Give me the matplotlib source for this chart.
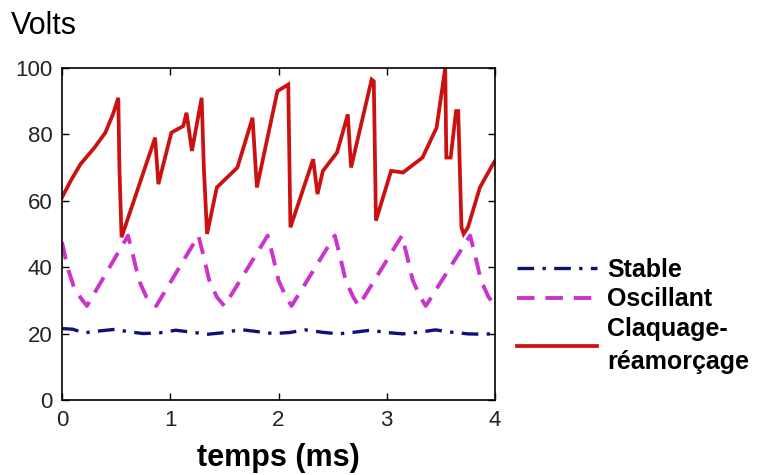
import numpy as np
import matplotlib
matplotlib.use("Agg")
import matplotlib.pyplot as plt

plt.rcParams['font.family'] = ['Liberation Sans', 'DejaVu Sans']

# --- data ---
stable_t = [0.00, 0.10, 0.20, 0.35, 0.50, 0.60, 0.75, 0.90, 1.05, 1.20, 1.35, 1.50, 1.65,
            1.80, 1.95, 2.10, 2.25, 2.40, 2.55, 2.70, 2.85, 3.00, 3.15, 3.30, 3.45, 3.60,
            3.75, 3.90, 4.00]
stable_v = [21.5, 21.3, 20.2, 20.8, 21.3, 20.6, 20.0, 20.2, 21.0, 20.4, 19.8, 20.3, 21.2,
            20.6, 20.0, 20.3, 21.1, 20.4, 19.9, 20.4, 21.0, 20.3, 19.9, 20.4, 21.1, 20.4,
            19.9, 19.8, 20.0]

osc_t = [0.00, 0.05, 0.12, 0.23, 0.61, 0.66, 0.71, 0.78, 0.87,
         1.26, 1.31, 1.36, 1.43, 1.50,
         1.90, 1.95, 2.00, 2.07, 2.12,
         2.52, 2.57, 2.62, 2.69, 2.74,
         3.14, 3.19, 3.24, 3.31, 3.36,
         3.77, 3.82, 3.87, 3.94, 4.00]
osc_v = [47.5, 40.0, 33.0, 28.3, 49.5, 43.0, 36.0, 31.0, 28.3,
         49.5, 43.0, 36.0, 31.0, 28.3,
         49.5, 43.0, 36.0, 31.0, 28.3,
         49.5, 43.0, 36.0, 31.0, 28.3,
         49.5, 43.0, 36.0, 31.0, 28.3,
         49.5, 43.0, 36.0, 31.0, 28.5]

claq_t = [0.00, 0.08, 0.17, 0.30, 0.40, 0.47, 0.52, 0.53, 0.55,
          0.86, 0.89, 1.01, 1.12, 1.15, 1.20, 1.29, 1.31, 1.34,
          1.43, 1.62, 1.76, 1.80, 1.99, 2.09, 2.10, 2.11,
          2.32, 2.36, 2.41, 2.54, 2.64, 2.67, 2.86, 2.88, 2.90,
          3.04, 3.15, 3.33, 3.46, 3.54, 3.55, 3.59, 3.64, 3.66, 3.69,
          3.71, 3.75, 3.86, 3.98, 4.00]
claq_v = [61.0, 66.0, 71.0, 76.0, 80.5, 86.0, 91.0, 70.0, 49.0,
          79.0, 65.0, 80.5, 82.5, 86.5, 75.0, 91.0, 70.0, 50.0,
          64.0, 70.0, 85.0, 64.0, 93.0, 95.0, 73.0, 52.0,
          72.5, 62.0, 69.0, 74.5, 86.0, 70.0, 96.5, 96.0, 54.0,
          69.0, 68.5, 73.0, 82.0, 100.0, 73.0, 73.0, 87.0, 87.0, 52.0,
          50.0, 52.0, 64.0, 71.0, 72.0]

labels = ['Stable', 'Oscillant', 'Claquage-\nréamorçage']

fig = plt.figure(figsize=(7.61, 4.75), dpi=100)
ax = fig.add_axes([0.0815, 0.158, 0.569, 0.699])

l1, = ax.plot(stable_t, stable_v, color='#10107a', lw=2.4, dashes=(5, 2.5, 1, 2.5))
l2, = ax.plot(osc_t, osc_v, color='#cc33cc', lw=2.8, dashes=(4.5, 2.8))
l3, = ax.plot(claq_t, claq_v, color='#cc1111', lw=2.7, solid_joinstyle='miter')

ax.set_xlim(0, 4)
ax.set_ylim(0, 100)
ax.set_xticks([0, 1, 2, 3, 4])
ax.set_yticks([0, 20, 40, 60, 80, 100])
ax.tick_params(direction='in', top=True, right=True, length=5, width=1,
               labelsize=16, pad=7, labelcolor='#222222')
for s in ax.spines.values():
    s.set_linewidth(1.2)

ax.set_xlabel('temps (ms)', fontsize=22, fontweight='bold', labelpad=9)
fig.text(0.014, 0.928, 'Volts', fontsize=22, ha='left', va='baseline')

leg = fig.legend([l1, l2, l3], labels, loc='upper left',
                 bbox_to_anchor=(0.666, 0.478), frameon=False,
                 prop={'size': 18, 'weight': 'bold'}, handlelength=3.2,
                 handletextpad=0.4, labelspacing=0.22, borderaxespad=0)
leg.get_texts()[2].set_linespacing(1.5)

fig.savefig('out.png', dpi=100)
